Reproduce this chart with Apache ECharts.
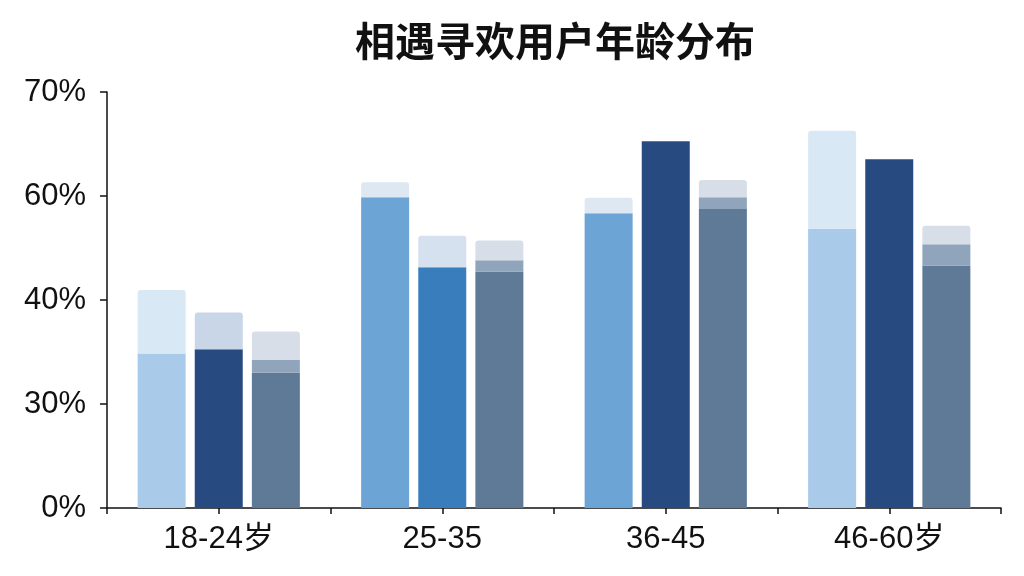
<!DOCTYPE html>
<html>
<head>
<meta charset="utf-8">
<script src="https://cdn.jsdelivr.net/npm/echarts@6/dist/echarts.min.js"></script>
<style>
html,body{margin:0;padding:0;background:#fff;}
#chart{width:1024px;height:576px;}
</style>
</head>
<body>
<div id="chart"></div>
<script>
// Categories and tick labels (the source axis places its labels at equal spacing)
const ageGroups = ['18-24岁', '25-35', '36-45', '46-60岁'];
const yTickLabels = ['0%', '30%', '40%', '60%', '70%'];

// Values read in the picture's linear axis units (0..70, one label every 17.5)
const seriesAMain = [26.0, 52.3, 49.6, 47.0];
const seriesACap  = [10.7, 2.5, 2.6, 16.5];
const seriesBMain = [26.7, 40.5, 61.7, 58.7];
const seriesBCap  = [6.2, 5.3, 0, 0];
const seriesCMain = [22.8, 39.8, 50.3, 40.8];
const seriesCMid  = [2.1, 1.9, 2.0, 3.6];
const seriesCCap  = [4.8, 3.3, 2.9, 3.1];

// Styles
const colAMain = ['#a9cbe9', '#6ca4d6', '#6ca4d6', '#a9cbe9'];
const colACap  = ['#d9e8f5', '#dde8f3', '#dde8f3', '#d9e8f5'];
const colBMain = ['#274a80', '#3a7dbc', '#274a80', '#274a80'];
const colBCap  = ['#c9d6e7', '#d5e1ee', '#d5e1ee', '#d5e1ee'];
const colCMain = '#5f7a96';
const colCMid  = '#90a5bb';
const colCCap  = '#d7dee7';

const FONT = '"Liberation Sans", "Noto Sans CJK SC", sans-serif';
const BW = 48;

function pick(arr) { return p => arr[p.dataIndex]; }

const chart = echarts.init(document.getElementById('chart'), null, {renderer: 'canvas'});
chart.setOption({
  backgroundColor: '#ffffff',
  animation: false,
  title: {
    text: '相遇寻欢用户年龄分布',
    left: 550,
    textAlign: 'center',
    top: 16,
    textStyle: {fontFamily: '"Noto Sans CJK SC", sans-serif', fontSize: 40, fontWeight: 'bold', color: '#111'}
  },
  grid: {left: 107, right: 23, top: 92, bottom: 68, containLabel: false},
  xAxis: [{
    type: 'category',
    data: ageGroups,
    position: 'bottom',
    axisLine: {lineStyle: {color: '#111', width: 1.5}},
    axisTick: {show: true, alignWithLabel: false, length: 6, lineStyle: {color: '#111', width: 1.5}},
    axisLabel: {fontFamily: FONT, fontSize: 31, color: '#111', margin: 16}
  }, {
    type: 'category',
    data: ageGroups,
    position: 'bottom',
    axisLine: {show: false},
    axisTick: {show: true, alignWithLabel: true, length: 6, lineStyle: {color: '#111', width: 1.5}},
    axisLabel: {show: false}
  }],
  yAxis: {
    type: 'value',
    min: 0,
    max: 70,
    interval: 17.5,
    axisLine: {show: true, lineStyle: {color: '#111', width: 1.5}},
    axisTick: {show: true, length: 7, lineStyle: {color: '#111', width: 1.5}},
    splitLine: {show: false},
    axisLabel: {
      fontFamily: FONT, fontSize: 31, color: '#111', margin: 21,
      padding: [5, 0, 0, 0],
      formatter: v => yTickLabels[Math.round(v / 17.5)]
    }
  },
  series: [
    {type: 'bar', name: 'A', stack: 'a', barWidth: BW, barGap: '19%', data: seriesAMain,
     itemStyle: {color: pick(colAMain)}},
    {type: 'bar', name: 'A cap', stack: 'a', barWidth: BW, barGap: '19%', data: seriesACap,
     itemStyle: {color: pick(colACap), borderRadius: [3, 3, 0, 0]}},
    {type: 'bar', name: 'B', stack: 'b', barWidth: BW, barGap: '19%', data: seriesBMain,
     itemStyle: {color: pick(colBMain)}},
    {type: 'bar', name: 'B cap', stack: 'b', barWidth: BW, barGap: '19%', data: seriesBCap,
     itemStyle: {color: pick(colBCap), borderRadius: [3, 3, 0, 0]}},
    {type: 'bar', name: 'C', stack: 'c', barWidth: BW, barGap: '19%', data: seriesCMain,
     itemStyle: {color: colCMain}},
    {type: 'bar', name: 'C mid', stack: 'c', barWidth: BW, barGap: '19%', data: seriesCMid,
     itemStyle: {color: colCMid}},
    {type: 'bar', name: 'C cap', stack: 'c', barWidth: BW, barGap: '19%', data: seriesCCap,
     itemStyle: {color: colCCap, borderRadius: [3, 3, 0, 0]}}
  ]
});
</script>
</body>
</html>
